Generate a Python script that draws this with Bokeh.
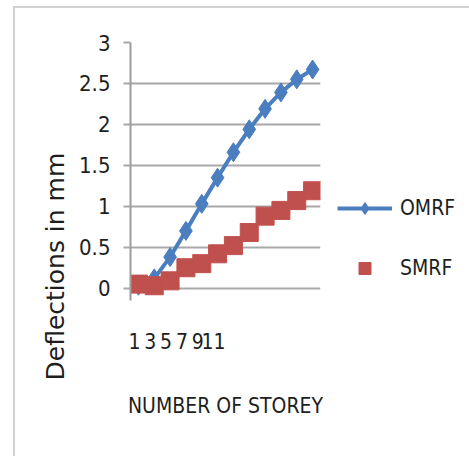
import math
from bokeh.plotting import figure
from bokeh.models import (Range1d, LinearAxis, FixedTicker, Legend, LegendItem,
                          Title, NumeralTickFormatter)
from bokeh.embed import file_html
from bokeh.resources import INLINE

# ---- data ----
storey = list(range(1, 13))
omrf = [0.03, 0.12, 0.38, 0.70, 1.03, 1.35, 1.66, 1.94, 2.19, 2.39, 2.55, 2.67]
smrf = [0.05, 0.03, 0.09, 0.25, 0.30, 0.42, 0.52, 0.68, 0.88, 0.95, 1.07, 1.19]
y_ticks = [0, 0.5, 1, 1.5, 2, 2.5, 3]
x_tick_labels = ["1", "3", "5", "7", "9", "11"]

BLUE = "#4a7ebf"
RED = "#c0504d"
NARROW = "'Liberation Sans Narrow', 'DejaVu Sans Condensed', sans-serif"
TXT = "#1e1e1e"

p = figure(frame_width=190, frame_height=258,
           x_range=Range1d(0.5, len(storey) + 0.5), y_range=Range1d(-0.15, 3.0),
           output_backend="svg", toolbar_location=None,
           x_axis_location=None,
           min_border_left=115, min_border_top=34,
           min_border_right=100, min_border_bottom=156)
p.styles = {"margin-left": "13px", "margin-top": "6px",
            "border-left": "2px solid #d2d2d2", "border-top": "2px solid #d2d2d2"}
p.outline_line_color = None
p.background_fill_color = "white"
p.border_fill_color = "white"

# grid
p.xgrid.visible = False
p.ygrid.ticker = FixedTicker(ticks=y_ticks)
p.ygrid.grid_line_color = "#a8a8a8"
p.ygrid.grid_line_width = 2

# y axis
ya = p.yaxis[0]
ya.ticker = FixedTicker(ticks=y_ticks)
ya.formatter = NumeralTickFormatter(format="0.[0]")
ya.axis_line_color = "#9c9c9c"
ya.axis_line_width = 2
ya.major_tick_in = 0
ya.major_tick_out = 7
ya.major_tick_line_color = "#a8a8a8"
ya.major_tick_line_width = 2
ya.minor_tick_line_color = None
ya.major_label_standoff = 13
ya.major_label_text_font = NARROW
ya.major_label_text_font_size = "22px"
ya.major_label_text_color = TXT

# y axis title (placed like the reference: low on the left side)
p.add_layout(Title(text="Deflections in mm", align="left", offset=-80,
                   vertical_align="top",
                   text_font="DejaVu Sans", text_font_size="25px",
                   text_font_style="normal", text_color=TXT), "left")

# x axis labels (compressed like the reference) on an extra range
tick_pos = [int(s) for s in x_tick_labels]
p.extra_x_ranges = {"lab": Range1d(0.5, 2 * len(storey) + 0.5)}
xa = LinearAxis(x_range_name="lab", ticker=FixedTicker(ticks=tick_pos),
                major_label_overrides={t: s for t, s in zip(tick_pos, x_tick_labels)})
xa.axis_line_color = None
xa.major_tick_line_color = None
xa.minor_tick_line_color = None
xa.major_label_standoff = 26
xa.major_label_text_font = NARROW
xa.major_label_text_font_size = "21px"
xa.major_label_text_color = TXT
xa.axis_label = "NUMBER OF STOREY"
xa.axis_label_standoff = 42
xa.axis_label_text_font = NARROW
xa.axis_label_text_font_size = "21px"
xa.axis_label_text_font_style = "normal"
xa.axis_label_text_color = TXT
p.add_layout(xa, "below")

# series
bl = p.line(storey, omrf, line_color=BLUE, line_width=4)
bm = p.scatter(storey, omrf, marker="diamond", size=19, fill_color=BLUE, line_color=BLUE)
rl = p.line(storey, smrf, line_color=RED, line_width=4)
rm = p.scatter(storey, smrf, marker="square", size=18, fill_color=RED, line_color=RED)

legend = Legend(items=[LegendItem(label="OMRF", renderers=[bl, bm]),
                       LegendItem(label="SMRF", renderers=[rm])],
                location="bottom_left", glyph_width=55, glyph_height=30,
                label_standoff=8, spacing=30, padding=0, margin=17,
                border_line_color=None, background_fill_alpha=0,
                label_text_font=NARROW, label_text_font_size="21px",
                label_text_color=TXT)
p.add_layout(legend, "right")

open("out.html", "w").write(file_html(p, INLINE))
